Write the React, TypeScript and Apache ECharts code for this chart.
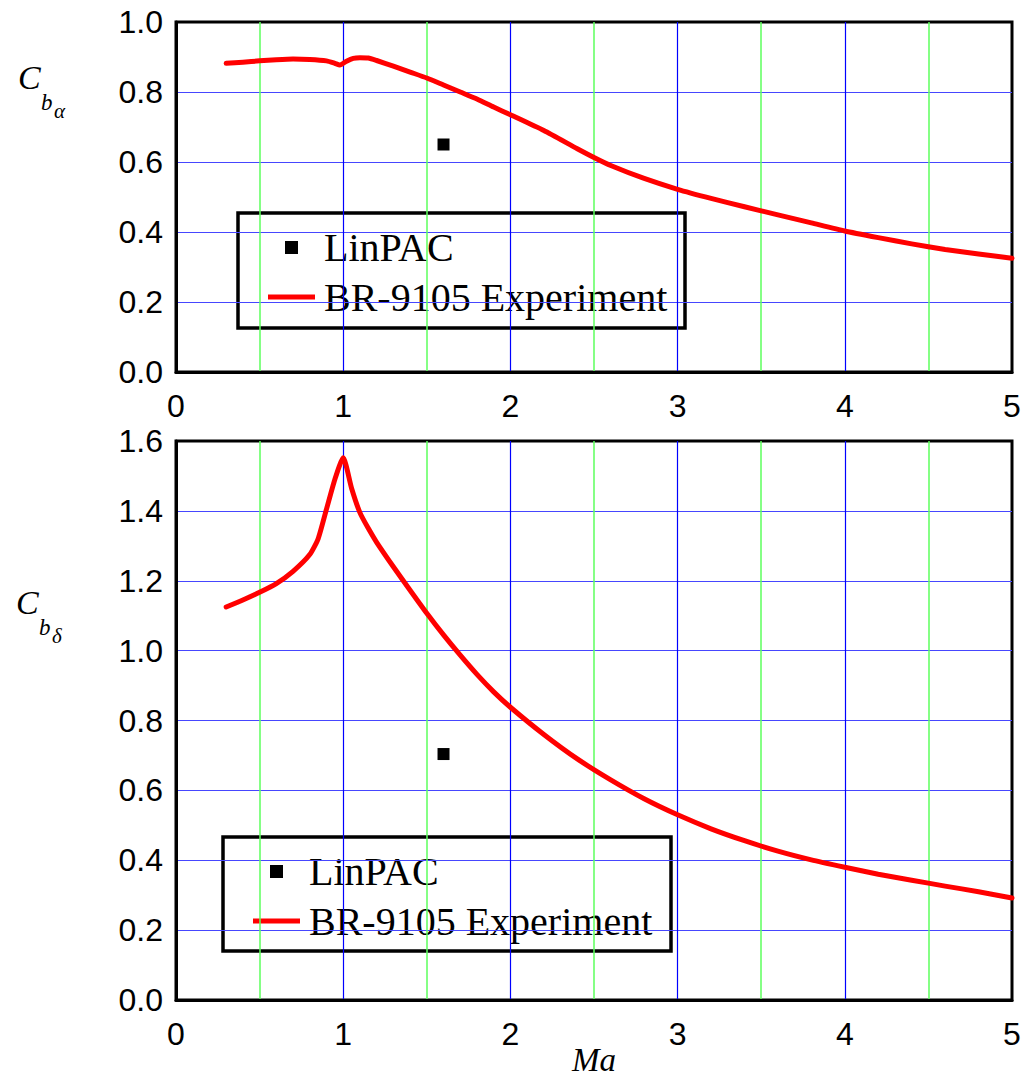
import React, { useEffect, useRef } from "react";
import * as echarts from "echarts";

// ---- Data ----
const machTop = [0.3, 0.4, 0.5, 0.6, 0.7, 0.8, 0.9, 0.95, 0.98, 1.02, 1.06, 1.1, 1.15, 1.2, 1.3, 1.4, 1.5, 1.6, 1.7, 1.8, 1.9, 2.0, 2.2, 2.4, 2.5, 2.6, 2.8, 3.0, 3.2, 3.4, 3.6, 3.8, 4.0, 4.2, 4.4, 4.6, 4.8, 5.0];
const cbAlphaExp = [0.882, 0.885, 0.889, 0.892, 0.894, 0.893, 0.889, 0.882, 0.877, 0.888, 0.896, 0.898, 0.897, 0.89, 0.874, 0.857, 0.84, 0.82, 0.8, 0.78, 0.757, 0.735, 0.69, 0.638, 0.613, 0.59, 0.553, 0.522, 0.496, 0.472, 0.449, 0.426, 0.403, 0.384, 0.366, 0.35, 0.337, 0.325];

const machBot = [0.3, 0.4, 0.5, 0.6, 0.7, 0.8, 0.85, 0.9, 0.95, 1.0, 1.05, 1.1, 1.15, 1.2, 1.3, 1.4, 1.5, 1.6, 1.7, 1.8, 1.9, 2.0, 2.2, 2.4, 2.6, 2.8, 3.0, 3.2, 3.4, 3.6, 3.8, 4.0, 4.2, 4.4, 4.6, 4.8, 5.0];
const cbDeltaExp = [1.125, 1.145, 1.167, 1.192, 1.227, 1.275, 1.32, 1.405, 1.49, 1.552, 1.465, 1.395, 1.35, 1.31, 1.24, 1.173, 1.107, 1.045, 0.987, 0.932, 0.882, 0.838, 0.76, 0.69, 0.63, 0.576, 0.53, 0.49, 0.456, 0.426, 0.401, 0.38, 0.36, 0.343, 0.326, 0.31, 0.292];

const linpacAlpha = [[1.6, 0.65]];
const linpacDelta = [[1.6, 0.704]];

const xTicks = [0, 1, 2, 3, 4, 5];
const seriesNames = ["LinPAC", "BR-9105 Experiment"];

const BLUE_V = "#0000ff";
const BLUE_H = "#4646ff";
const GREEN = "#5cff5c";
const RED = "#ff0000";
const SANS = "Liberation Sans, Arial, sans-serif";
const SERIF = "Liberation Serif, Times New Roman, serif";

function pair(xs: number[], ys: number[]) {
  return xs.map((x, i) => [x, ys[i]]);
}

function xAxisCfg(gridIndex: number, name?: string) {
  return {
    type: "value",
    gridIndex,
    min: xTicks[0],
    max: xTicks[xTicks.length - 1],
    interval: 1,
    name: name || "",
    nameLocation: "middle",
    nameGap: 45,
    nameMoveOverlap: false,
    nameTextStyle: { fontFamily: SERIF, fontStyle: "italic", fontSize: 33, lineHeight: 30, color: "#000" },
    axisLine: { show: true, lineStyle: { color: "#000", width: 3 } },
    axisTick: { show: false },
    axisLabel: { fontFamily: SANS, fontSize: 32, color: "#000", margin: 18 },
    splitLine: { show: true, showMinLine: false, showMaxLine: false, lineStyle: { color: BLUE_V, width: 1.2 } },
    minorTick: { show: false, splitNumber: 2 },
    minorSplitLine: { show: true, lineStyle: { color: GREEN, width: 1.5 } },
  };
}

function yAxisCfg(gridIndex: number, max: number) {
  return {
    type: "value",
    gridIndex,
    min: 0,
    max,
    interval: 0.2,
    axisLine: { show: true, lineStyle: { color: "#000", width: 3 } },
    axisTick: { show: false },
    axisLabel: {
      fontFamily: SANS,
      fontSize: 32,
      color: "#000",
      margin: 13,
      formatter: (v: number) => v.toFixed(1),
    },
    splitLine: { show: true, showMinLine: false, showMaxLine: false, lineStyle: { color: BLUE_H, width: 1.2 } },
  };
}

function legendGraphic(x: number, y: number, w: number, h: number) {
  return {
    type: "group",
    x,
    y,
    z: 100,
    children: [
      { type: "rect", shape: { x: 0, y: 0, width: w, height: h }, style: { fill: "#fff", stroke: "#000", lineWidth: 3.5 } },
      { type: "rect", shape: { x: 47, y: 28, width: 13, height: 13 }, style: { fill: "#000" } },
      { type: "text", x: 86, y: 34, style: { text: seriesNames[0], font: `40px ${SERIF}`, fill: "#000", verticalAlign: "middle" } },
      { type: "line", shape: { x1: 30, y1: 84, x2: 77, y2: 84 }, style: { stroke: RED, lineWidth: 5 } },
      { type: "text", x: 86, y: 84, style: { text: seriesNames[1], font: `40px ${SERIF}`, fill: "#000", verticalAlign: "middle" } },
    ],
  };
}

function yTitle(x: number, y: number, sub: string) {
  return {
    type: "group",
    x,
    y,
    children: [
      { type: "text", x: 0, y: 0, style: { text: "C", font: `italic 34px ${SERIF}`, fill: "#000", verticalAlign: "bottom" } },
      { type: "text", x: 23, y: 20, style: { text: "b", font: `italic 23px ${SERIF}`, fill: "#000", verticalAlign: "bottom" } },
      { type: "text", x: 36, y: 27, style: { text: sub, font: `italic 21px ${SERIF}`, fill: "#000", verticalAlign: "bottom" } },
    ],
  };
}

export default function App() {
  const ref = useRef<HTMLDivElement>(null);
  useEffect(() => {
    if (!ref.current) return;
    const chart = echarts.init(ref.current, undefined, { renderer: "svg" });
    const lineSeries = (xi: number, data: number[][]) => ({
      name: seriesNames[1],
      type: "line",
      xAxisIndex: xi,
      yAxisIndex: xi,
      data,
      showSymbol: false,
      smooth: 0.2,
      lineStyle: { color: RED, width: 5, join: "round", cap: "round" },
      itemStyle: { color: RED },
      z: 5,
    });
    const scatterSeries = (xi: number, data: number[][]) => ({
      name: seriesNames[0],
      type: "scatter",
      xAxisIndex: xi,
      yAxisIndex: xi,
      data,
      symbol: "rect",
      symbolSize: 12,
      itemStyle: { color: "#000", opacity: 1 },
      z: 6,
    });
    chart.setOption({
      animation: false,
      backgroundColor: "#fff",
      grid: [
        { left: 176, top: 22, width: 836, height: 350, show: true, borderColor: "#000", borderWidth: 3, backgroundColor: "transparent", outerBoundsMode: "none", containLabel: false },
        { left: 176, top: 441, width: 836, height: 559, show: true, borderColor: "#000", borderWidth: 3, backgroundColor: "transparent", outerBoundsMode: "none", containLabel: false },
      ],
      xAxis: [xAxisCfg(0), xAxisCfg(1, "Ma")],
      yAxis: [yAxisCfg(0, 1.0), yAxisCfg(1, 1.6)],
      legend: { show: false },
      series: [
        lineSeries(0, pair(machTop, cbAlphaExp)),
        scatterSeries(0, linpacAlpha),
        lineSeries(1, pair(machBot, cbDeltaExp)),
        scatterSeries(1, linpacDelta),
      ],
      graphic: [
        legendGraphic(238, 213, 447, 115),
        legendGraphic(223, 837, 448, 114),
        yTitle(18, 94, "α"),
        yTitle(16, 619, "δ"),
      ],
    });
    return () => chart.dispose();
  }, []);
  return (
    <div
      ref={ref}
      style={{ position: "absolute", left: 0, top: 0, width: 1025, height: 1079, background: "#fff" }}
    />
  );
}
